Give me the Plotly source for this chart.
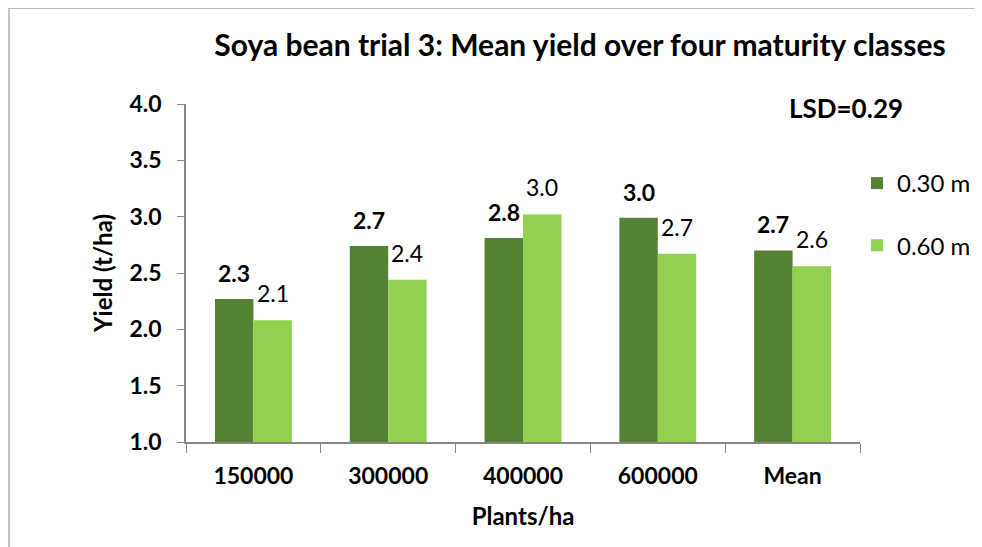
import plotly.graph_objects as go

categories = ["150000", "300000", "400000", "600000", "Mean"]
series_names = ["0.30 m", "0.60 m"]
yield_030 = [2.27, 2.74, 2.81, 2.99, 2.70]
yield_060 = [2.08, 2.44, 3.02, 2.67, 2.56]
y_ticks = [1.0, 1.5, 2.0, 2.5, 3.0, 3.5, 4.0]
title_text = "Soya bean trial 3: Mean yield over four maturity classes"
lsd_text = "LSD=0.29"

DARK = "#548235"
LIGHT = "#92D050"
FONT = "Lato"

OFF = 8  # page body margin
W, H = 982 - OFF, 547 - OFF
L = 186 - OFF
T = 104 - OFF
R = W - (860 - OFF)
B = H - (442 - OFF)
PW = W - L - R
PH = H - T - B


def px_x(p):
    return (p - OFF - L) / PW


def px_y(p):
    return (H - B - (p - OFF)) / PH


fig = go.Figure()
fig.add_trace(go.Bar(x=categories, y=yield_030, name=series_names[0],
                     marker=dict(color=DARK, line=dict(width=0)), legendgroup="a"))
fig.add_trace(go.Bar(x=categories, y=yield_060, name=series_names[1],
                     marker=dict(color=LIGHT, line=dict(width=0)), legendgroup="b"))

bar_w = PW / len(categories) * (1 - 0.43) / 2
for i, v in enumerate(yield_030):
    fig.add_annotation(x=i, y=v, text=f"<b>{v:.1f}</b>", showarrow=False,
                       xshift=-bar_w / 2, yshift=26, yanchor="middle",
                       font=dict(family=FONT, size=23, color="black"))
for i, v in enumerate(yield_060):
    fig.add_annotation(x=i, y=v, text=f"{v:.1f}", showarrow=False,
                       xshift=bar_w / 2, yshift=27, yanchor="middle",
                       font=dict(family=FONT, size=23, color="black"))

fig.add_annotation(xref="paper", yref="paper", x=px_x(846), y=px_y(108),
                   text=f"<b>{lsd_text}</b>", showarrow=False, xanchor="center", yanchor="middle",
                   font=dict(family=FONT, size=26, color="black"))

# chart border (left and top visible)
fig.add_shape(type="line", xref="paper", yref="paper",
              x0=px_x(9), x1=px_x(9), y0=px_y(8), y1=px_y(600),
              line=dict(color="#a6a6a6", width=1.3))
fig.add_shape(type="line", xref="paper", yref="paper",
              x0=px_x(9), x1=px_x(1000), y0=px_y(8), y1=px_y(8),
              line=dict(color="#a6a6a6", width=1.3))

fig.update_layout(
    width=W, height=H,
    margin=dict(l=L, r=R, t=T, b=B, autoexpand=False),
    paper_bgcolor="white", plot_bgcolor="white",
    barmode="group", bargap=0.43, bargroupgap=0,
    title=dict(text=f"<b>{title_text}</b>", xref="container", yref="container",
               x=(580 - OFF) / W, y=1 - (45 - OFF) / H, xanchor="center", yanchor="middle",
               font=dict(family=FONT, size=30, color="black")),
    font=dict(family=FONT, color="black"),
    legend=dict(x=px_x(857), y=px_y(161), xanchor="left", yanchor="top",
                font=dict(family=FONT, size=24, color="black"),
                tracegroupgap=28, traceorder="grouped", bgcolor="rgba(0,0,0,0)"),
    showlegend=True,
)

fig.update_xaxes(
    type="category", range=[-0.5, len(categories) - 0.5],
    showline=True, linecolor="#868686", linewidth=1.5,
    ticks="outside", tickson="boundaries", ticklen=9, tickcolor="#868686",
    showgrid=False, tickangle=0,
    tickfont=dict(family=FONT, size=23, color="black"), ticklabelstandoff=13,
    tickprefix="<b>", ticksuffix="</b>",
    title=dict(text="<b>Plants/ha</b>", font=dict(family=FONT, size=24, color="black"), standoff=20),
)
fig.update_yaxes(
    range=[1.0, 4.0], tickvals=y_ticks, ticktext=[f"<b>{t:.1f}</b>" for t in y_ticks],
    showline=True, linecolor="#868686", linewidth=1.5,
    ticks="outside", ticklen=7, tickcolor="#868686", showgrid=False, zeroline=False,
    tickfont=dict(family=FONT, size=23, color="black"), ticklabelstandoff=11,
    title=dict(text="<b>Yield (t/ha)</b>", font=dict(family=FONT, size=24, color="black"), standoff=10),
)

fig.write_html("out.html")
